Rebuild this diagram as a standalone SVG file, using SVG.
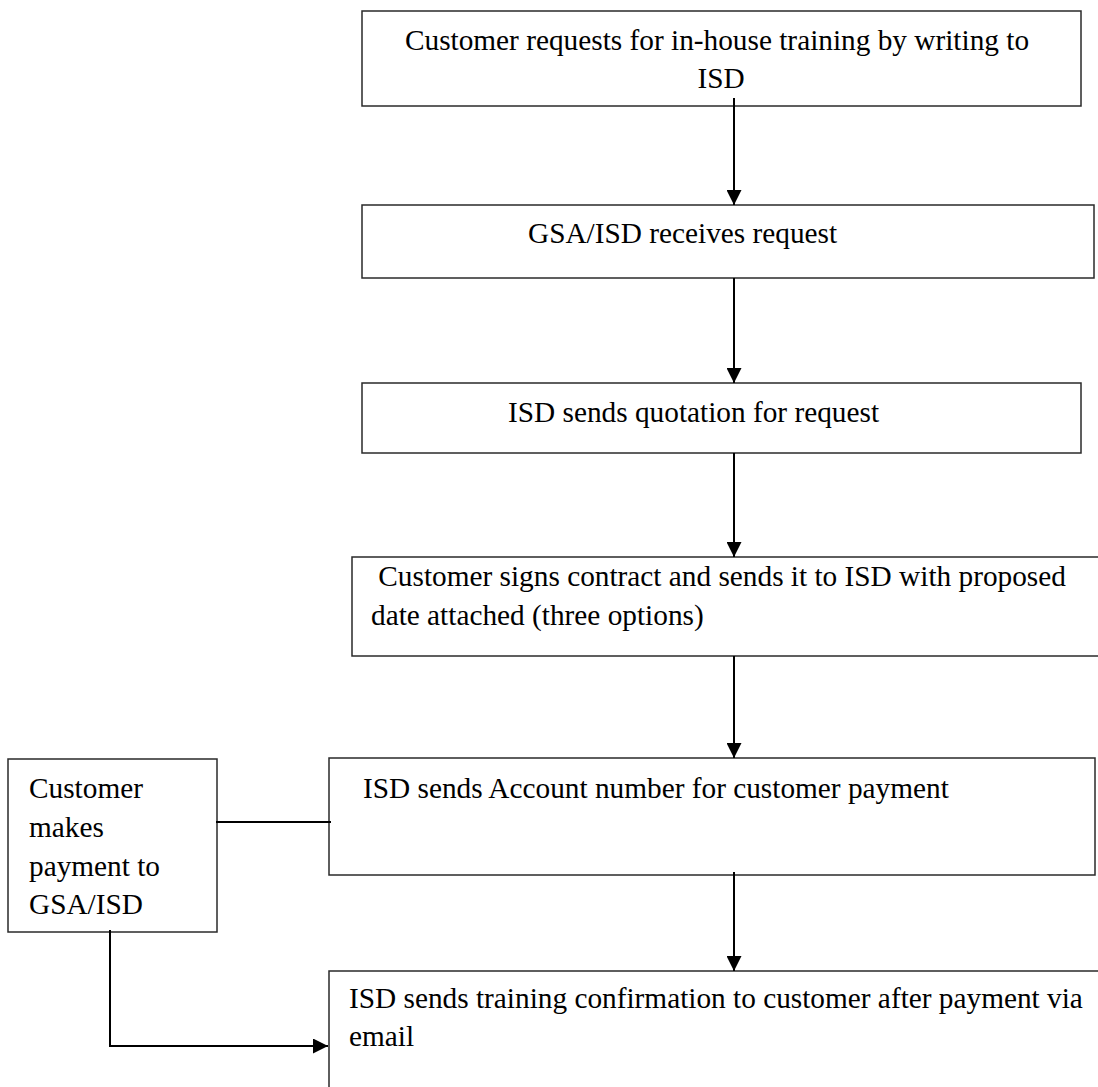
<svg xmlns="http://www.w3.org/2000/svg" width="1098" height="1087" viewBox="0 0 1098 1087">
<style>
.box{fill:#fff;stroke:#2a2a2a;stroke-width:1.5}
.t{font-family:"Liberation Serif","Times New Roman",serif;font-size:29.3px;fill:#000}
.c{fill:none;stroke:#000;stroke-width:2}
</style>
<defs>
<marker id="ah" viewBox="0 0 10 10" refX="10" refY="5" markerWidth="15" markerHeight="15" markerUnits="userSpaceOnUse" orient="auto">
<path d="M0,0 L10,5 L0,10 z" fill="#000"/>
</marker>
</defs>
<rect width="1098" height="1087" fill="#fff"/>
<g id="n1"><rect class="box" x="362" y="11" width="719" height="95"/>
<text class="t" x="717" y="50" text-anchor="middle">Customer requests for in-house training by writing to</text>
<text class="t" x="721" y="88" text-anchor="middle">ISD</text></g>
<g id="n2"><rect class="box" x="362" y="205" width="732" height="73"/>
<text class="t" x="528" y="243">GSA/ISD receives request</text></g>
<g id="n3"><rect class="box" x="362" y="383" width="719" height="70"/>
<text class="t" x="508" y="422">ISD sends quotation for request</text></g>
<g id="n4"><rect class="box" x="352" y="557" width="760" height="99"/>
<text class="t" x="371" y="586" xml:space="preserve"> Customer signs contract and sends it to ISD with proposed</text>
<text class="t" x="371" y="625">date attached (three options)</text></g>
<g id="n5"><rect class="box" x="329" y="758" width="766" height="117"/>
<text class="t" x="363" y="798">ISD sends Account number for customer payment</text></g>
<g id="n6"><rect class="box" x="8" y="759" width="209" height="173"/>
<text class="t" x="29" y="798">Customer</text>
<text class="t" x="29" y="837">makes</text>
<text class="t" x="29" y="876">payment to</text>
<text class="t" x="29" y="914">GSA/ISD</text></g>
<g id="n7"><rect class="box" x="329" y="971" width="790" height="140"/>
<text class="t" x="349" y="1008">ISD sends training confirmation to customer after payment via</text>
<text class="t" x="349" y="1046">email</text></g>
<g id="connectors">
<line class="c" x1="734" y1="98" x2="734" y2="205" marker-end="url(#ah)"/>
<line class="c" x1="734" y1="278" x2="734" y2="383" marker-end="url(#ah)"/>
<line class="c" x1="734" y1="453" x2="734" y2="557" marker-end="url(#ah)"/>
<line class="c" x1="734" y1="656" x2="734" y2="758" marker-end="url(#ah)"/>
<line class="c" x1="734" y1="872" x2="734" y2="971" marker-end="url(#ah)"/>
<line class="c" x1="216" y1="822" x2="331" y2="822"/>
<polyline class="c" points="110,930 110,1046 328,1046" marker-end="url(#ah)"/>
</g>
</svg>
